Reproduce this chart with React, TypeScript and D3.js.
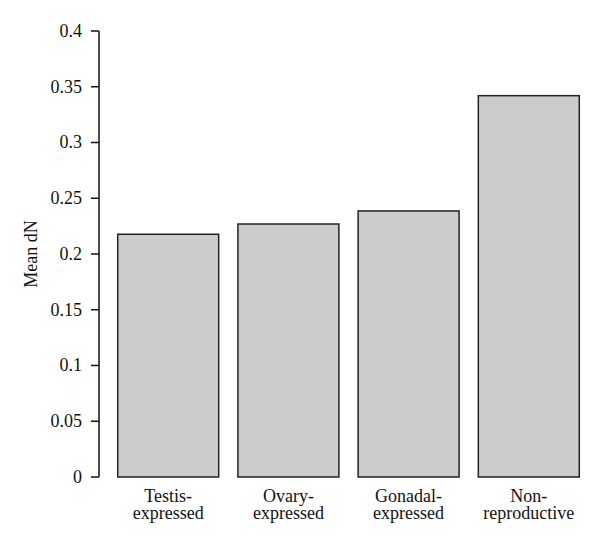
import React from "react";
import * as d3 from "d3";

const categories = [["Testis-", "expressed"], ["Ovary-", "expressed"], ["Gonadal-", "expressed"], ["Non-", "reproductive"]];
const values = [0.2177, 0.2269, 0.2386, 0.342];
const yTicks = [0, 0.05, 0.1, 0.15, 0.2, 0.25, 0.3, 0.35, 0.4];
const yTickLabels = ["0", "0.05", "0.1", "0.15", "0.2", "0.25", "0.3", "0.35", "0.4"];
const yLabel = "Mean dN";

export default function App() {
  const W = 600, H = 545;
  const keys = categories.map((c) => c.join(""));
  const x = d3.scaleBand<string>().domain(keys).range([108.1, 588.9]).paddingInner(0.16).paddingOuter(0.08);
  const y = d3.scaleLinear().domain([0, 0.4]).range([477, 31]);
  const font = "Liberation Serif, DejaVu Serif, serif";
  const axisX = 99;
  const fs = 18;
  return (
    <svg width={W} height={H} style={{ position: "absolute", left: 0, top: 0, background: "#fff", fontFamily: font }}>
      <line x1={axisX} x2={axisX} y1={y(0)} y2={y(0.4)} stroke="#111" strokeWidth={1.5} />
      {yTicks.map((t, i) => (
        <g key={i}>
          <line x1={axisX - 8} x2={axisX} y1={y(t)} y2={y(t)} stroke="#111" strokeWidth={1.5} />
          <text x={82} y={y(t)} dy="0.33em" textAnchor="end" fontSize={fs} fill="#111" style={{ fontFamily: font }}>{yTickLabels[i]}</text>
        </g>
      ))}
      <text transform={`translate(37,${(y(0) + y(0.4)) / 2}) rotate(-90)`} textAnchor="middle" fontSize={fs} fill="#111" style={{ fontFamily: font }}>{yLabel}</text>
      {values.map((v, i) => (
        <rect key={i} x={x(keys[i])!} y={y(v)} width={x.bandwidth()} height={y(0) - y(v)} fill="#cccccc" stroke="#222" strokeWidth={1.5} />
      ))}
      {categories.map((c, i) => (
        <text key={i} x={x(keys[i])! + x.bandwidth() / 2} textAnchor="middle" fontSize={fs} fill="#111" style={{ fontFamily: font }}>
          <tspan x={x(keys[i])! + x.bandwidth() / 2} y={502}>{c[0]}</tspan>
          <tspan x={x(keys[i])! + x.bandwidth() / 2} y={519}>{c[1]}</tspan>
        </text>
      ))}
    </svg>
  );
}
